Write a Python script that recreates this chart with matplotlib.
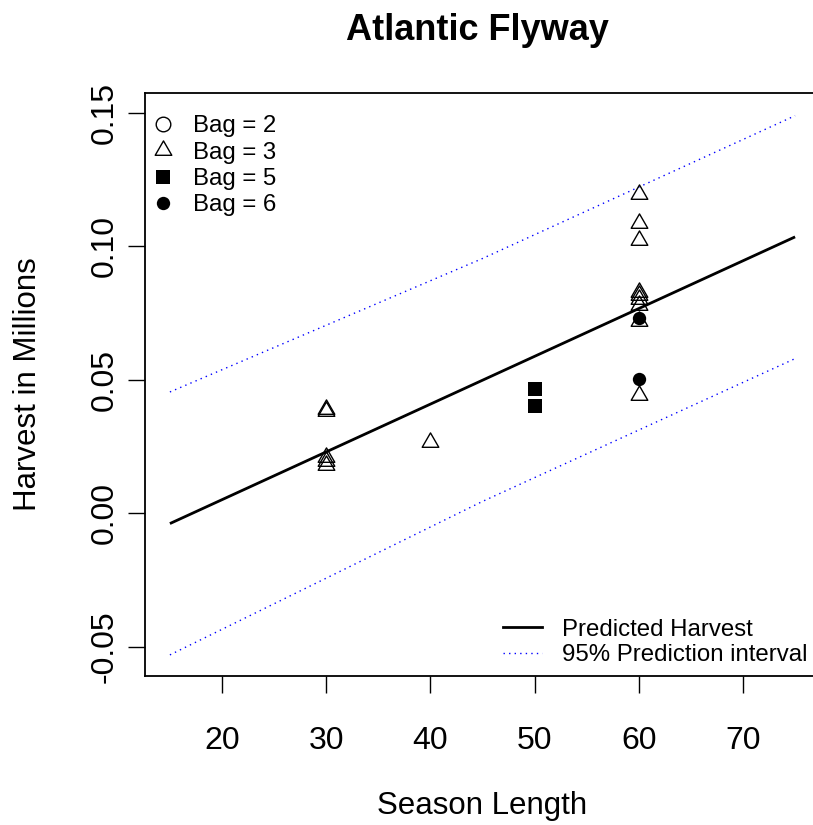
import matplotlib
matplotlib.use('Agg')
import matplotlib.pyplot as plt
from matplotlib.path import Path
from matplotlib.lines import Line2D

plt.rcParams['font.family'] = ['Liberation Sans', 'DejaVu Sans']

# ---- data ----
bag3_len = [30, 30, 30, 30, 30, 40, 60, 60, 60, 60, 60, 60, 60, 60, 60]
bag3_harv = [0.0390, 0.0385, 0.0210, 0.0195, 0.0180, 0.0268,
             0.1197, 0.1088, 0.1024, 0.0830, 0.0820, 0.0805, 0.0780, 0.0720, 0.0444]
bag5_len = [50, 50]
bag5_harv = [0.0466, 0.0403]
bag6_len = [60, 60]
bag6_harv = [0.0732, 0.0504]

pred_len = [15, 45, 75]
pred_fit = [-0.0038, 0.0499, 0.1036]
pi_upper = [0.0455, 0.0955, 0.1490]
pi_lower = [-0.0530, 0.0045, 0.0580]

x_ticks = [20, 30, 40, 50, 60, 70]
y_ticks = [-0.05, 0.00, 0.05, 0.10, 0.15]
y_ticklabels = ['-0.05', '0.00', '0.05', '0.10', '0.15']

# ---- figure ----
W, H = 813, 825
fig = plt.figure(figsize=(W / 100, H / 100), dpi=100)
AX_L, AX_B, AX_W, AX_H = 144.9, 676, 675.2, 583
ax = fig.add_axes([AX_L / W, 1 - AX_B / H, AX_W / W, AX_H / H])

tri = Path([(0, 1.555), (1.347, -0.778), (-1.347, -0.778), (0, 1.555)],
           [Path.MOVETO, Path.LINETO, Path.LINETO, Path.CLOSEPOLY])

ax.plot(pred_len, pred_fit, color='black', lw=2.0, solid_capstyle='butt')
ax.plot(pred_len, pi_upper, color='#0000FF', lw=1.0, linestyle=(0, (1, 3)))
ax.plot(pred_len, pi_lower, color='#0000FF', lw=1.0, linestyle=(0, (1, 3)))

ax.plot(bag3_len, bag3_harv, linestyle='none', marker=tri, markersize=13.8,
        markerfacecolor='none', markeredgecolor='black', markeredgewidth=1.0)
ax.plot(bag5_len, bag5_harv, linestyle='none', marker='s', markersize=9.4,
        markerfacecolor='black', markeredgecolor='black', markeredgewidth=0)
ax.plot(bag6_len, bag6_harv, linestyle='none', marker='o', markersize=9.6,
        markerfacecolor='black', markeredgecolor='black', markeredgewidth=0)

ax.set_xlim(12.6, 77.4)
ax.set_ylim(-0.0609, 0.1575)
ax.set_xticks(x_ticks)
ax.set_yticks(y_ticks)
ax.set_yticklabels(y_ticklabels)
for s in ax.spines.values():
    s.set_linewidth(1.3)
ax.tick_params(axis='both', direction='out', length=12, width=1.0,
               labelsize=23)
ax.tick_params(axis='x', pad=24)
ax.tick_params(axis='y', pad=6)
for lab in ax.get_yticklabels():
    lab.set_rotation(90)
    lab.set_va('center')

ax.set_xlabel('Season Length', fontsize=22.5)
ax.set_ylabel('Harvest in Millions', fontsize=22.5)
ax.xaxis.set_label_coords(0.5, 1 - (806 - 93) / AX_H)
ax.xaxis.label.set_va('center')
ax.yaxis.set_label_coords((28 - AX_L) / AX_W, 0.5)
ax.yaxis.label.set_va('center')

fig.text(477 / W, 1 - 31 / H, 'Atlantic Flyway', fontsize=26, fontweight='bold',
         ha='center', va='center')

# legends
h_bag = [
    Line2D([], [], linestyle='none', marker='o', markersize=10.5,
           markerfacecolor='none', markeredgecolor='black', markeredgewidth=1.0),
    Line2D([], [], linestyle='none', marker=tri, markersize=13.8,
           markerfacecolor='none', markeredgecolor='black', markeredgewidth=1.0),
    Line2D([], [], linestyle='none', marker='s', markersize=9.4,
           markerfacecolor='black', markeredgewidth=0),
    Line2D([], [], linestyle='none', marker='o', markersize=9.6,
           markerfacecolor='black', markeredgewidth=0),
]
leg1 = ax.legend(h_bag, ['Bag = 2', 'Bag = 3', 'Bag = 5', 'Bag = 6'],
                 loc='upper left', bbox_to_anchor=(-8 / AX_W, 1 - 8 / AX_H),
                 frameon=False, fontsize=17.3, handlelength=1.0,
                 handletextpad=0.72, labelspacing=0.18,
                 borderaxespad=0.3, borderpad=0.3)
ax.add_artist(leg1)

h_line = [Line2D([], [], color='black', lw=2.0),
          Line2D([], [], color='#0000FF', lw=1.0, linestyle=(0, (1, 3)))]
ax.legend(h_line, ['Predicted Harvest', '95% Prediction interval'],
          loc='lower left', bbox_to_anchor=((498 - AX_L) / AX_W, (676 - 671) / AX_H),
          frameon=False, fontsize=17.3, handlelength=1.62, handletextpad=0.83,
          labelspacing=0.15, borderaxespad=0.0, borderpad=0.2)

fig.savefig('out.png', dpi=100)
